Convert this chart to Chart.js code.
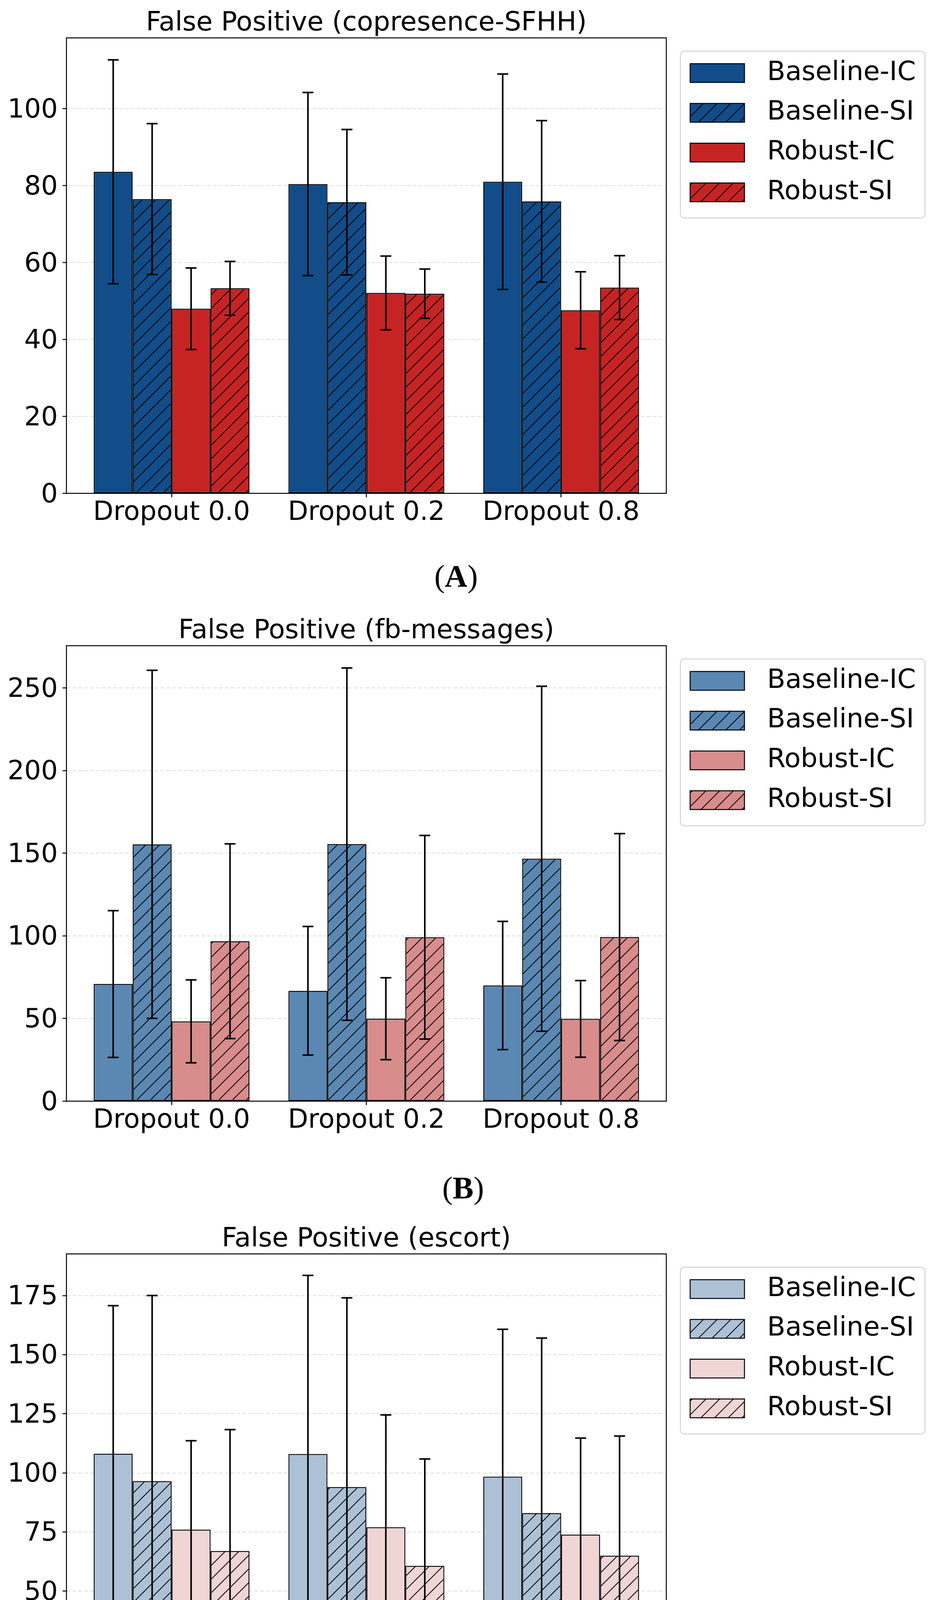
<!DOCTYPE html>
<html>
<head>
<meta charset="utf-8">
<title>False Positive</title>
<script src="https://cdn.jsdelivr.net/npm/chart.js@4.4.1/dist/chart.umd.min.js"></script>
<style>
  html, body { margin: 0; padding: 0; background: #fff; }
  #wrap { position: relative; width: 2390px; height: 4662px; overflow: hidden; }
  #wrap canvas { position: absolute; left: 0; }
</style>
</head>
<body>
<div id="wrap">
  <canvas id="panelA" width="2390" height="1549" style="top:0px"></canvas>
  <canvas id="panelB" width="2390" height="1549" style="top:1556px"></canvas>
  <canvas id="panelC" width="2390" height="1549" style="top:3113px"></canvas>
</div>
<script>
const groups = ['Dropout 0.0', 'Dropout 0.2', 'Dropout 0.8'];
const groupPos = [0, 1, 2];
const series = ['Baseline-IC', 'Baseline-SI', 'Robust-IC', 'Robust-SI'];

// rows follow `series`, columns follow `groups`
const sfhhMean = [
  [83.6, 80.4, 81.0],
  [76.5, 75.7, 75.9],
  [48.0, 52.1, 47.6],
  [53.3, 51.9, 53.5]
];
const sfhhStd = [
  [29.1, 23.8, 28.0],
  [19.6, 18.9, 21.0],
  [10.6, 9.6, 10.0],
  [7.0, 6.4, 8.3]
];

const fbMean = [
  [70.9, 66.8, 70.0],
  [155.4, 155.5, 146.7],
  [48.3, 49.9, 49.8],
  [96.8, 99.2, 99.3]
];
const fbStd = [
  [44.4, 38.9, 38.8],
  [105.3, 106.6, 104.4],
  [25.1, 24.8, 23.2],
  [58.9, 61.6, 62.6]
];

const escortMean = [
  [108.1, 108.0, 98.4],
  [96.5, 94.0, 83.0],
  [76.0, 77.0, 73.9],
  [67.0, 60.7, 65.0]
];
const escortStd = [
  [62.6, 75.5, 62.3],
  [78.5, 80.0, 74.0],
  [37.6, 47.5, 40.8],
  [51.3, 45.2, 50.6]
];

const panels = [
  { id: 'panelA', title: 'False Positive (copresence-SFHH)', tag: 'A',
    mean: sfhhMean, std: sfhhStd, yMax: 118.4, yStep: 20,
    colors: ['#124d8a', '#c62424'], tagX: 1167, tagY: 1502 },
  { id: 'panelB', title: 'False Positive (fb-messages)', tag: 'B',
    mean: fbMean, std: fbStd, yMax: 275.6, yStep: 50,
    colors: ['#5b88b2', '#d88c8c'], tagX: 1185, tagY: 1512 },
  { id: 'panelC', title: 'False Positive (escort)', tag: 'C',
    mean: escortMean, std: escortStd, yMax: 192.6, yStep: 25,
    colors: ['#adc1d6', '#f0d5d5'], tagX: 1185, tagY: 1510 }
];

const FONT = '"DejaVu Sans", sans-serif';
const TICK_PX = 67.5, TITLE_PX = 68, LEGEND_PX = 68;
Chart.defaults.font.family = FONT;
Chart.defaults.color = '#000';

// "//" hatch like matplotlib, on top of the bar colour
function hatch(color){
  const s = 35;
  const c = document.createElement('canvas');
  c.width = s; c.height = s;
  const g = c.getContext('2d');
  g.fillStyle = color;
  g.fillRect(0, 0, s, s);
  g.strokeStyle = '#000';
  g.lineWidth = 2;
  g.beginPath();
  g.moveTo(-2, s + 2); g.lineTo(s + 2, -2);
  g.moveTo(-2, 2); g.lineTo(2, -2);
  g.moveTo(s - 2, s + 2); g.lineTo(s + 2, s - 2);
  g.stroke();
  return g.createPattern(c, 'repeat');
}

const errorBars = {
  id: 'errorBars',
  afterDatasetsDraw(chart){
    const {ctx} = chart;
    const y = chart.scales.y;
    chart.data.datasets.forEach((ds, i) => {
      chart.getDatasetMeta(i).data.forEach((bar, j) => {
        const v = ds.data[j].y, e = ds.errors[j];
        const top = y.getPixelForValue(v + e);
        const bot = y.getPixelForValue(v - e);
        ctx.save();
        ctx.strokeStyle = '#000';
        ctx.lineWidth = 4;
        ctx.beginPath();
        ctx.moveTo(bar.x, top); ctx.lineTo(bar.x, bot);
        ctx.moveTo(bar.x - 14, top); ctx.lineTo(bar.x + 14, top);
        ctx.moveTo(bar.x - 14, bot); ctx.lineTo(bar.x + 14, bot);
        ctx.stroke();
        ctx.restore();
      });
    });
    // axes frame on top
    const ca = chart.chartArea;
    ctx.save();
    ctx.strokeStyle = '#000';
    ctx.lineWidth = 2.5;
    ctx.strokeRect(ca.left, ca.top, ca.right - ca.left, ca.bottom - ca.top);
    ctx.restore();
  }
};

const decor = {
  id: 'decor',
  afterDraw(chart, args, opts){
    const {ctx} = chart;
    const ca = chart.chartArea;
    ctx.save();
    // title
    ctx.fillStyle = '#000';
    ctx.font = `${TITLE_PX}px ${FONT}`;
    ctx.textAlign = 'center';
    ctx.textBaseline = 'alphabetic';
    ctx.fillText(opts.title, (ca.left + ca.right) / 2, ca.top - 19);

    // legend
    const lx = ca.right + 36, ly = ca.top + 34, lw = 626, lh = 427;
    ctx.beginPath();
    ctx.roundRect(lx, ly, lw, lh, 10);
    ctx.fillStyle = 'rgba(255,255,255,0.8)';
    ctx.fill();
    ctx.strokeStyle = '#d4d4d4';
    ctx.lineWidth = 2.5;
    ctx.stroke();
    ctx.font = `${LEGEND_PX}px ${FONT}`;
    chart.data.datasets.forEach((ds, i) => {
      const cy = ly + 56 + i * 101.8;
      ctx.fillStyle = ds.backgroundColor;
      ctx.fillRect(ca.right + 61, cy - 24, 139, 48);
      ctx.strokeStyle = '#000';
      ctx.lineWidth = 2.5;
      ctx.strokeRect(ca.right + 61, cy - 24, 139, 48);
      ctx.fillStyle = '#000';
      ctx.textAlign = 'left';
      ctx.textBaseline = 'middle';
      ctx.fillText(ds.label, ca.right + 258, cy);
    });

    // subfigure tag: (A) with bold letter
    const reg = '80px "Liberation Serif", serif';
    const bold = 'bold 80px "Liberation Serif", serif';
    ctx.textAlign = 'left';
    ctx.textBaseline = 'alphabetic';
    ctx.fillStyle = '#000';
    ctx.font = reg;
    const wp = ctx.measureText('(').width, wq = ctx.measureText(')').width;
    ctx.font = bold;
    const wl = ctx.measureText(opts.tag).width;
    let x = opts.tagX - (wp + wl + wq) / 2;
    ctx.font = reg; ctx.fillText('(', x, opts.tagY); x += wp;
    ctx.font = bold; ctx.fillText(opts.tag, x, opts.tagY); x += wl;
    ctx.font = reg; ctx.fillText(')', x, opts.tagY);
    ctx.restore();
  }
};

panels.forEach(p => {
  const datasets = series.map((name, s) => {
    const base = p.colors[s < 2 ? 0 : 1];
    return {
      label: name,
      data: groupPos.map((x, g) => ({x, y: p.mean[s][g]})),
      errors: p.std[s],
      backgroundColor: s % 2 ? hatch(base) : base,
      borderColor: '#000',
      borderWidth: 2.5,
      borderSkipped: false,
      categoryPercentage: 0.8,
      barPercentage: 1.0
    };
  });

  new Chart(document.getElementById(p.id), {
    type: 'bar',
    data: {datasets},
    options: {
      responsive: false,
      animation: false,
      devicePixelRatio: 1,
      events: [],
      layout: {padding: {top: 97, left: 0, right: 685, bottom: 186}},
      plugins: {
        legend: {display: false},
        tooltip: {enabled: false},
        decor: {title: p.title, tag: p.tag, tagX: p.tagX, tagY: p.tagY}
      },
      scales: {
        x: {
          type: 'linear',
          min: -0.54,
          max: 2.54,
          offset: false,
          afterBuildTicks: ax => { ax.ticks = groupPos.map(v => ({value: v})); },
          afterFit: ax => { ax.height = 100; },
          ticks: {
            callback: v => groups[v],
            font: {size: TICK_PX},
            color: '#000',
            padding: 0,
            autoSkip: false,
            maxRotation: 0,
            minRotation: 0
          },
          grid: {offset: false, drawOnChartArea: false, drawTicks: true, tickLength: 10, tickColor: '#000', tickWidth: 2.5},
          border: {display: false}
        },
        y: {
          min: 0,
          max: p.yMax,
          afterFit: ax => { ax.width = 170; },
          ticks: {stepSize: p.yStep, includeBounds: false, font: {size: TICK_PX}, color: '#000', padding: 12, labelOffset: 5},
          grid: {color: '#dddddd', lineWidth: 2, tickColor: '#000', tickWidth: 2.5, tickLength: 10, tickBorderDash: []},
          border: {display: false, dash: [10, 5]}
        }
      }
    },
    plugins: [errorBars, decor]
  });
});
</script>
</body>
</html>
